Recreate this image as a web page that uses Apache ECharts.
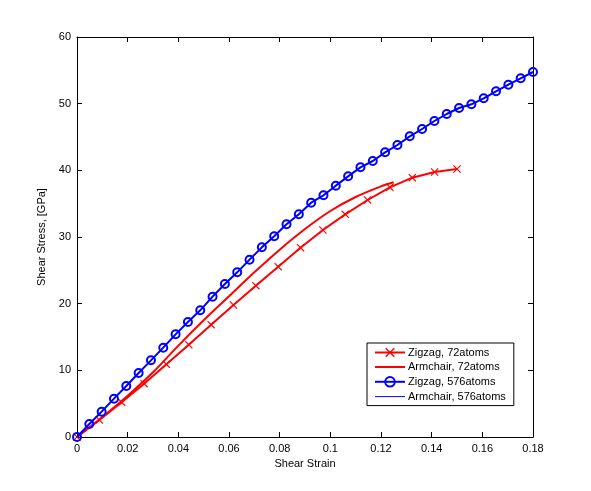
<!DOCTYPE html>
<html>
<head>
    <meta charset="utf-8">
    <title>Shear Stress vs Shear Strain</title>
    <script src="https://cdn.jsdelivr.net/npm/echarts@6/dist/echarts.min.js"></script>
    <style>
        html, body { margin: 0; padding: 0; background: #fff; }
        #chart1 { width: 591px; height: 491px; }
    </style>
</head>
<body>
<div id="chart1"></div>
<script type="text/javascript">
    // data
    let zigzag72Step = 0.15 / 17;
    let zigzag72 = [0, 2.55, 5.2, 8.0, 10.9, 13.85, 16.85, 19.8, 22.7, 25.55, 28.4, 31.05, 33.4, 35.55, 37.45, 38.9, 39.75, 40.2];

    let armchair72X = [0, 0.01, 0.02, 0.03, 0.04, 0.05, 0.06, 0.07, 0.08, 0.09, 0.1, 0.11, 0.12, 0.125];
    let armchair72 = [0, 3.0, 6.2, 9.7, 13.7, 17.5, 21.1, 24.7, 28.1, 31.2, 33.9, 36.0, 37.6, 38.2];

    let zigzag576Step = 0.18 / 37;
    let zigzag576 = [0, 1.95, 3.8, 5.75, 7.65, 9.6, 11.5, 13.4, 15.4, 17.25, 19.0, 21.05, 22.95, 24.7, 26.6,
        28.45, 30.1, 31.9, 33.4, 35.15, 36.25, 37.7, 39.1, 40.45, 41.4, 42.7, 43.8, 45.1, 46.2, 47.4, 48.45,
        49.35, 49.9, 50.8, 51.85, 52.85, 53.8, 54.75];
    // thin armchair 576 line sits under the zigzag 576 line
    let armchair576 = zigzag576.slice();

    let xTicks = [0, 0.02, 0.04, 0.06, 0.08, 0.1, 0.12, 0.14, 0.16, 0.18];
    let yTicks = [0, 10, 20, 30, 40, 50, 60];

    let stepPairs = function (step, ys) {
        return ys.map(function (y, i) { return [i * step, y]; });
    };
    let pairs = function (xs, ys) {
        return xs.map(function (x, i) { return [x, ys[i]]; });
    };

    let crossPath = 'path://M0,1L1,0L5,4L9,0L10,1L6,5L10,9L9,10L5,6L1,10L0,9L4,5Z';
    // plain line icons for the legend (corner moves keep the 30x12 box)
    let thickLineIcon = 'path://M0,0M30,12M0,5H30V7H0Z';
    let thinLineIcon = 'path://M0,0M30,12M0,5.5H30V6.5H0Z';
    let font = 'Liberation Sans, Arial, sans-serif';

    let axisCommon = {
        axisLine: { show: true, onZero: false, lineStyle: { color: '#000', width: 1 } },
        axisTick: { show: true, inside: true, length: 5, lineStyle: { color: '#000' } },
        splitLine: { show: false }
    };

    let myChart1 = echarts.init(document.getElementById('chart1'));
    myChart1.setOption({
        backgroundColor: '#fff',
        animation: false,
        textStyle: { fontFamily: font },
        grid: { left: 77, top: 37, width: 456, height: 400, containLabel: false },
        legend: {
            orient: 'vertical',
            left: 367,
            top: 343,
            padding: [4, 8, 3, 7],
            itemGap: 3,
            itemWidth: 30,
            itemHeight: 12,
            borderColor: '#000',
            borderWidth: 1,
            backgroundColor: '#fff',
            textStyle: { fontSize: 11, color: '#000', fontFamily: font, padding: [0, 0, 0, -2] },
            data: [
                { name: 'Zigzag, 72atoms' },
                { name: 'Armchair, 72atoms', icon: thickLineIcon },
                { name: 'Zigzag, 576atoms' },
                { name: 'Armchair, 576atoms', icon: thinLineIcon }
            ]
        },
        xAxis: [
            Object.assign({}, axisCommon, {
                type: 'value', position: 'bottom', min: xTicks[0], max: xTicks[xTicks.length - 1], interval: 0.02,
                name: 'Shear Strain', nameLocation: 'middle', nameGap: 18,
                nameTextStyle: { fontSize: 11, color: '#000', fontFamily: font },
                axisLabel: { fontSize: 11, color: '#000', margin: 6, fontFamily: font }
            }),
            Object.assign({}, axisCommon, {
                type: 'value', position: 'top', min: 0, max: 0.18, interval: 0.02,
                axisLabel: { show: false }
            })
        ],
        yAxis: [
            Object.assign({}, axisCommon, {
                type: 'value', position: 'left', min: yTicks[0], max: yTicks[yTicks.length - 1], interval: 10,
                name: 'Shear Stress, [GPa]', nameLocation: 'middle', nameGap: 22,
                nameTextStyle: { fontSize: 11, color: '#000', fontFamily: font },
                axisLabel: { fontSize: 11, color: '#000', margin: 6, fontFamily: font }
            }),
            Object.assign({}, axisCommon, {
                type: 'value', position: 'right', min: 0, max: 60, interval: 10,
                axisLabel: { show: false }
            })
        ],
        series: [
            {
                name: 'Zigzag, 72atoms', type: 'line', z: 3,
                data: stepPairs(zigzag72Step, zigzag72),
                color: '#ff0000',
                symbol: crossPath, symbolSize: 8, showAllSymbol: true,
                lineStyle: { color: '#ff0000', width: 2 },
                itemStyle: { color: '#ff0000' }
            },
            {
                name: 'Armchair, 72atoms', type: 'line', z: 2,
                data: pairs(armchair72X, armchair72),
                color: '#ff0000', smooth: 0.3,
                symbol: 'none',
                lineStyle: { color: '#ff0000', width: 2 }
            },
            {
                name: 'Zigzag, 576atoms', type: 'line', z: 5,
                data: stepPairs(zigzag576Step, zigzag576),
                color: '#0000ff',
                symbol: 'circle', symbolSize: 8, showAllSymbol: true,
                lineStyle: { color: '#0000ff', width: 2 },
                itemStyle: { color: 'rgba(255,255,255,0)', borderColor: '#0000ff', borderWidth: 2 }
            },
            {
                name: 'Armchair, 576atoms', type: 'line', z: 4,
                data: stepPairs(zigzag576Step, armchair576),
                color: '#0000ff',
                symbol: 'none',
                lineStyle: { color: '#0000ff', width: 1 }
            }
        ]
    });
</script>
</body>
</html>
